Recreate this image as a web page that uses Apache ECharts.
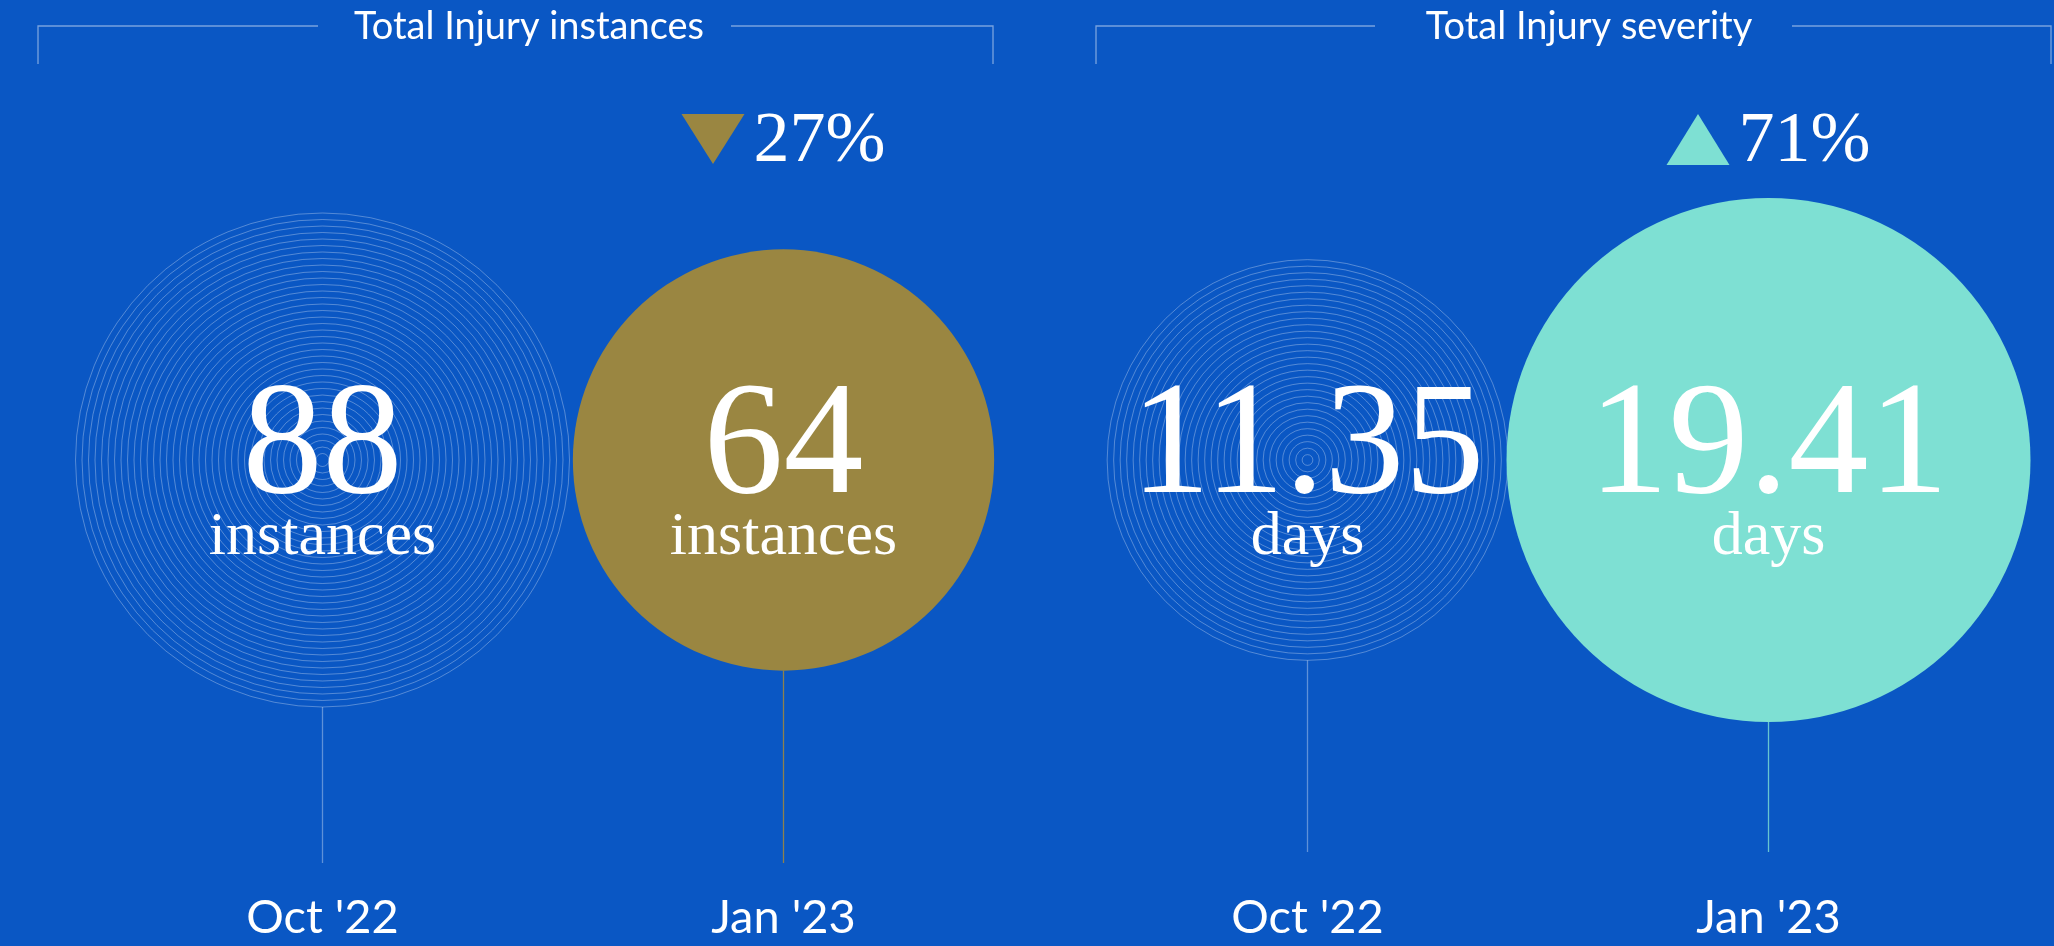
<!DOCTYPE html>
<html>
<head>
<meta charset="utf-8">
<title>Injury instances and severity</title>
<script src="https://cdn.jsdelivr.net/npm/echarts@6/dist/echarts.min.js"></script>
<style>
  html, body { margin: 0; padding: 0; background: #0a57c4; }
  #chart { width: 2054px; height: 946px; }
</style>
</head>
<body>
<div id="chart"></div>
<script>
// data
const periods = ["Oct '22", "Jan '23"];
const instances = [88, 64];
const severityDays = [11.35, 19.41];
const panelTitles = ['Total Injury instances', 'Total Injury severity'];
const units = ['instances', 'days'];

const BG = '#0a57c4';
const GOLD = '#9a8641';
const TEAL = '#7ee0d3';
const SERIF = "'Liberation Serif', 'DejaVu Serif', serif";
const SANS = "Lato, 'Open Sans', sans-serif";

// measure text so the arrow + percent group can be centred
const ctx = document.createElement('canvas').getContext('2d');
function textWidth(str, font) {
  ctx.font = font;
  return ctx.measureText(str).width;
}

// one renderer per panel: circle size follows the value (area)
function makeRender(values, maxR, fillColor, stemColor) {
  const maxV = Math.max.apply(null, values);
  return function (params, api) {
    const idx = api.value(0);
    const v = api.value(2);
    const pt = api.coord([idx, 0]);
    const cs = params.coordSys;
    const bottom = cs.y + cs.height;
    const r = maxR * Math.sqrt(v / maxV);
    const children = [];

    // stem down to the axis
    children.push({
      type: 'line',
      shape: { x1: pt[0], y1: pt[1] + r, x2: pt[0], y2: bottom },
      style: { stroke: idx === 0 ? 'rgba(255,255,255,0.35)' : stemColor, lineWidth: 1.3 }
    });

    if (idx === 0) {
      // earlier period: concentric rings
      for (let k = r; k > 2; k -= 6.5) {
        children.push({
          type: 'circle',
          shape: { cx: pt[0], cy: pt[1], r: k },
          style: { fill: null, stroke: 'rgba(255,255,255,0.3)', lineWidth: 1 }
        });
      }
    } else {
      children.push({
        type: 'circle',
        shape: { cx: pt[0], cy: pt[1], r: r },
        style: { fill: fillColor }
      });

      // change vs previous period
      const prev = values[idx - 1];
      const pct = Math.round((v / prev - 1) * 100);
      const label = Math.abs(pct) + '%';
      const font = '72px ' + SERIF;
      const triW = 63, gap = 9;
      const total = triW + gap + textWidth(label, font);
      const x0 = pt[0] - total / 2;
      const yc = pt[1] - 320;
      const points = pct < 0
        ? [[x0, yc - 26], [x0 + triW, yc - 26], [x0 + triW / 2, yc + 24]]
        : [[x0 + triW / 2, yc - 26], [x0 + triW, yc + 25], [x0, yc + 25]];
      children.push({ type: 'polygon', shape: { points: points }, style: { fill: fillColor } });
      children.push({
        type: 'text',
        x: x0 + triW + gap,
        y: yc + 2,
        style: { text: label, fill: '#fff', font: font, align: 'left', verticalAlign: 'middle' }
      });
    }

    children.push({
      type: 'text',
      x: pt[0],
      y: pt[1] - 10,
      style: { text: String(v), fill: '#fff', font: '160px ' + SERIF, align: 'center', verticalAlign: 'middle' }
    });
    children.push({
      type: 'text',
      x: pt[0],
      y: pt[1] + 78,
      style: {
        text: units[params.seriesIndex],
        fill: '#fff',
        font: '62px ' + SERIF,
        align: 'center',
        verticalAlign: 'middle'
      }
    });
    return { type: 'group', children: children };
  };
}

function toData(values) {
  return values.map(function (v, i) { return [i, 0, v]; });
}

const chart = echarts.init(document.getElementById('chart'));

function axisX(gridIndex, margin) {
  return {
    type: 'category',
    gridIndex: gridIndex,
    data: periods,
    axisLine: { show: false },
    axisTick: { show: false },
    axisLabel: { color: '#fff', fontFamily: SANS, fontSize: 47, margin: margin }
  };
}
function axisY(gridIndex) {
  return { type: 'category', gridIndex: gridIndex, data: ['all'], show: false };
}

const bracketStyle = { stroke: 'rgba(255,255,255,0.45)', lineWidth: 1.3, fill: null };
const titleStyle = { color: '#fff', fontFamily: SANS, fontSize: 38, fontWeight: 'normal' };

chart.setOption({
  backgroundColor: BG,
  animation: false,
  title: [
    { text: panelTitles[0], left: 524, top: 3, textAlign: 'center', textStyle: titleStyle },
    { text: panelTitles[1], left: 1584, top: 3, textAlign: 'center', textStyle: titleStyle }
  ],
  grid: [
    { left: 92, width: 922, top: 57, bottom: 83 },
    { left: 1077, width: 922, top: 68, bottom: 94 }
  ],
  xAxis: [axisX(0, 31), axisX(1, 42)],
  yAxis: [axisY(0), axisY(1)],
  graphic: [
    { type: 'polyline', shape: { points: [[38, 64], [38, 26], [318, 26]] }, style: bracketStyle },
    { type: 'polyline', shape: { points: [[731, 26], [993, 26], [993, 64]] }, style: bracketStyle },
    { type: 'polyline', shape: { points: [[1096, 64], [1096, 26], [1375, 26]] }, style: bracketStyle },
    { type: 'polyline', shape: { points: [[1792, 26], [2051, 26], [2051, 64]] }, style: bracketStyle }
  ],
  series: [
    {
      name: panelTitles[0],
      type: 'custom',
      xAxisIndex: 0,
      yAxisIndex: 0,
      clip: false,
      silent: true,
      renderItem: makeRender(instances, 247, GOLD, 'rgba(154,134,65,0.9)'),
      data: toData(instances)
    },
    {
      name: panelTitles[1],
      type: 'custom',
      xAxisIndex: 1,
      yAxisIndex: 1,
      clip: false,
      silent: true,
      renderItem: makeRender(severityDays, 262, TEAL, 'rgba(126,224,211,0.8)'),
      data: toData(severityDays)
    }
  ]
});
</script>
</body>
</html>
